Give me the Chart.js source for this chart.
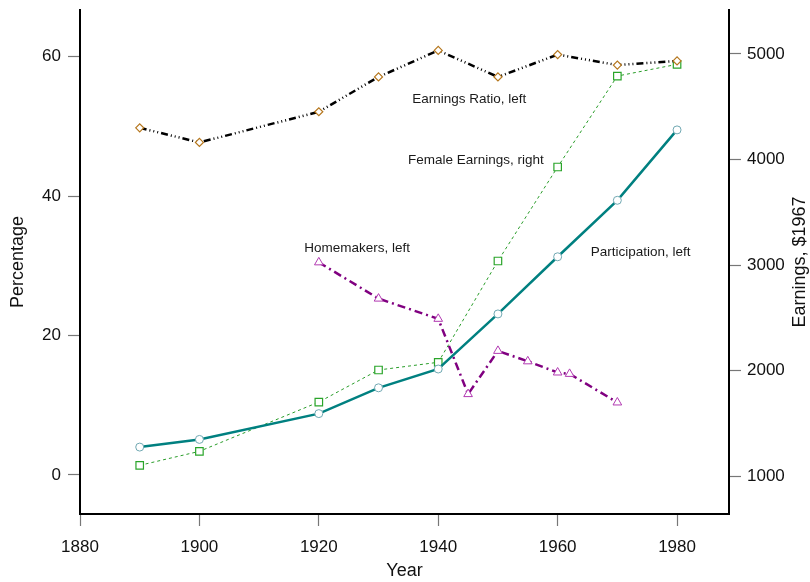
<!DOCTYPE html>
<html>
<head>
<meta charset="utf-8">
<script src="https://cdn.jsdelivr.net/npm/chart.js@4"></script>
<style>
  body { margin: 0; background: #fff; }
  #wrap { width: 810px; height: 582px; }
</style>
</head>
<body>
<div id="wrap"><canvas id="womenChart" width="810" height="582"></canvas></div>
<script>
// values
const years = [1890, 1900, 1920, 1930, 1940, 1950, 1960, 1970, 1980];
const earningsRatio = [49.8, 47.7, 52.1, 57.1, 60.9, 57.1, 60.3, 58.8, 59.4];
const femaleEarnings = [1101, 1234, 1701, 2005, 2078, 3038, 3929, 4791, 4902];
const participation = [4.0, 5.1, 8.8, 12.5, 15.2, 23.1, 31.3, 39.4, 49.5];
const homemakerYears = [1920, 1930, 1940, 1945, 1950, 1955, 1960, 1962, 1970];
const homemakers = [30.5, 25.3, 22.4, 11.6, 17.8, 16.3, 14.7, 14.5, 10.4];

const yearTicks = [1880, 1900, 1920, 1940, 1960, 1980];
const pctTicks = [0, 20, 40, 60];
const earnTicks = [1000, 2000, 3000, 4000, 5000];

// series labels placed in the plot (year, percentage)
const seriesLabels = [
    { text: 'Earnings Ratio, left', x: 1945.2, y: 53.9 },
    { text: 'Female Earnings, right', x: 1946.3, y: 45.1 },
    { text: 'Homemakers, left', x: 1926.4, y: 32.5 },
    { text: 'Participation, left', x: 1973.9, y: 32.0 }
];

const FONT = '"Liberation Sans", Arial, Helvetica, sans-serif';

function pts(xs, ys) {
    return xs.map(function (x, i) { return { x: x, y: ys[i] }; });
}

const labelPlugin = {
    id: 'seriesLabels',
    afterDatasetsDraw(chart) {
        const c = chart.ctx;
        const sx = chart.scales.x, sy = chart.scales.y;
        c.save();
        c.font = '13.5px ' + FONT;
        c.fillStyle = '#1a1a1a';
        c.textAlign = 'center';
        c.textBaseline = 'middle';
        seriesLabels.forEach(function (l) {
            c.fillText(l.text, sx.getPixelForValue(l.x), sy.getPixelForValue(l.y));
        });
        // right axis title reads bottom to top
        const a = chart.chartArea;
        c.font = '18px ' + FONT;
        c.fillStyle = '#111';
        c.translate(800, (a.top + a.bottom) / 2);
        c.rotate(-Math.PI / 2);
        c.fillText('Earnings, $1967', 0, 0);
        c.restore();
    }
};

function axisGrid() {
    return {
        display: true,
        drawOnChartArea: false,
        drawTicks: true,
        tickLength: 12,
        tickColor: '#777',
        tickWidth: 1.2
    };
}

// fixed axis boxes so the plot sits where the reference has it
function fixWidth(w) {
    return function (scale) {
        scale.width = w;
        scale.paddingTop = 0;
        scale.paddingBottom = 0;
    };
}

const ctx = document.getElementById('womenChart').getContext('2d');
const womenChart = new Chart(ctx, {
    type: 'line',
    data: {
        datasets: [
            {
                label: 'Participation, left',
                data: pts(years, participation),
                yAxisID: 'y',
                borderColor: '#008080',
                borderWidth: 2.5,
                pointStyle: 'circle',
                pointRadius: 4,
                pointBorderWidth: 1,
                pointBorderColor: '#70a8b2',
                pointBackgroundColor: '#fff'
            },
            {
                label: 'Homemakers, left',
                data: pts(homemakerYears, homemakers),
                yAxisID: 'y',
                borderColor: '#800080',
                borderWidth: 2.5,
                borderDash: [8, 4, 2, 4],
                pointStyle: 'triangle',
                pointRadius: 5,
                pointBorderWidth: 1,
                pointBorderColor: '#b23ab2',
                pointBackgroundColor: '#fff'
            },
            {
                label: 'Earnings Ratio, left',
                data: pts(years, earningsRatio),
                yAxisID: 'y',
                borderColor: '#000',
                borderWidth: 2.5,
                borderDash: [7, 3, 1, 3, 1, 3, 1, 3],
                pointStyle: 'rectRot',
                pointRadius: 4,
                pointBorderWidth: 1.2,
                pointBorderColor: '#b5761c',
                pointBackgroundColor: '#fff'
            },
            {
                label: 'Female Earnings, right',
                data: pts(years, femaleEarnings),
                yAxisID: 'y2',
                borderColor: '#2a9d2a',
                borderWidth: 1,
                borderDash: [3, 3],
                pointStyle: 'rect',
                pointRadius: 5.3,
                pointBorderWidth: 1.2,
                pointBorderColor: '#2aa52a',
                pointBackgroundColor: '#fff'
            }
        ]
    },
    options: {
        responsive: false,
        animation: false,
        layout: { padding: { top: 10, left: 0, right: 0, bottom: 0 } },
        elements: { line: { tension: 0 } },
        plugins: {
            legend: { display: false },
            tooltip: { enabled: false }
        },
        scales: {
            x: {
                type: 'linear',
                position: 'bottom',
                min: 1880,
                max: 1988.7,
                afterBuildTicks: function (scale) {
                    scale.ticks = yearTicks.map(function (v) { return { value: v }; });
                },
                afterFit: function (scale) {
                    scale.height = 68;
                    scale.paddingLeft = 0;
                    scale.paddingRight = 0;
                },
                grid: axisGrid(),
                border: { display: true, color: '#000', width: 2 },
                ticks: {
                    padding: 11,
                    maxRotation: 0,
                    autoSkip: false,
                    color: '#111',
                    font: { family: FONT, size: 17 },
                    callback: function (v) { return String(v); }
                },
                title: {
                    display: true,
                    text: 'Year',
                    color: '#111',
                    font: { family: FONT, size: 18 },
                    padding: { top: 0, bottom: 0 }
                }
            },
            y: {
                type: 'linear',
                position: 'left',
                min: -5.6,
                max: 66.7,
                afterBuildTicks: function (scale) {
                    scale.ticks = pctTicks.map(function (v) { return { value: v }; });
                },
                afterFit: fixWidth(80),
                grid: axisGrid(),
                border: { display: true, color: '#000', width: 2 },
                ticks: {
                    padding: 7,
                    color: '#111',
                    font: { family: FONT, size: 17 },
                    callback: function (v) { return String(v); }
                },
                title: {
                    display: true,
                    text: 'Percentage',
                    color: '#111',
                    font: { family: FONT, size: 18 },
                    padding: { top: 7, bottom: 0 }
                }
            },
            y2: {
                type: 'linear',
                position: 'right',
                min: 640,
                max: 5417,
                afterBuildTicks: function (scale) {
                    scale.ticks = earnTicks.map(function (v) { return { value: v }; });
                },
                afterFit: fixWidth(81),
                grid: axisGrid(),
                border: { display: true, color: '#000', width: 2 },
                ticks: {
                    padding: 6,
                    color: '#111',
                    font: { family: FONT, size: 17 },
                    callback: function (v) { return String(v); }
                }
            }
        }
    },
    plugins: [labelPlugin]
});
</script>
</body>
</html>
